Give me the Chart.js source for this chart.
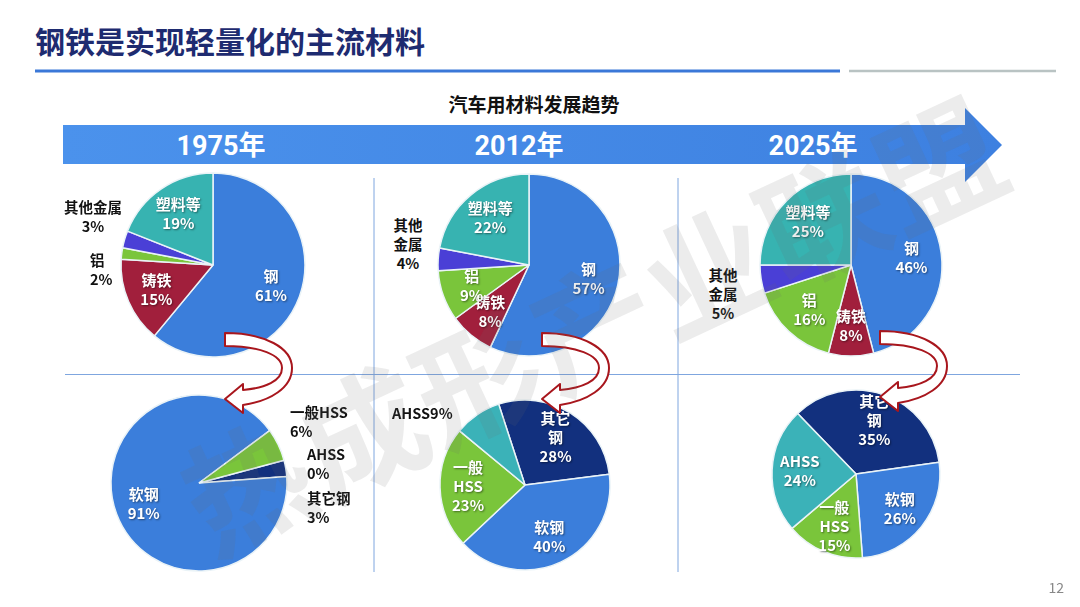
<!DOCTYPE html>
<html>
<head>
<meta charset="utf-8">
<script src="https://cdn.jsdelivr.net/npm/chart.js@4.4.1/dist/chart.umd.min.js"></script>
<style>
  html, body { margin: 0; padding: 0; background: #fff; }
  #slide { position: relative; width: 1080px; height: 607px; overflow: hidden; background: #fff;
           font-family: "Noto Sans CJK SC", "Noto Sans", sans-serif; }
  .abs { position: absolute; }
  .title { left: 35px; top: 18px; font-size: 30px; font-weight: 700; color: #1e2b70; }
  .subtitle { left: 0; width: 1068px; top: 90px; text-align: center; font-size: 19px; font-weight: 700; color: #111; }
  .year { top: 128px; width: 160px; text-align: center; font-size: 27px; font-weight: 700; color: #fff; line-height: 36px;
          font-family: Roboto, "Noto Sans CJK SC", sans-serif; }
  .note { font-size: 14.5px; font-weight: 700; color: #111; line-height: 19px; white-space: pre; }
  .pie { position: absolute; width: 200px; height: 200px; }
  .mark { left: 150px; top: 425px; font-size: 125px; font-weight: 700; color: rgba(110,110,110,0.13);
          transform: rotate(-25deg); transform-origin: left top; white-space: nowrap; letter-spacing: 2px; pointer-events: none; }
  .page { right: 16px; bottom: 10px; font-size: 14px; color: #888; }
</style>
</head>
<body>
<div id="slide">
  <svg class="abs" width="1080" height="607" style="left:0;top:0">
    <defs>
      <linearGradient id="band" x1="0" x2="1" y1="0" y2="0">
        <stop offset="0" stop-color="#4b92ec"/>
        <stop offset="1" stop-color="#3d80e0"/>
      </linearGradient>
    </defs>
    <line x1="35" y1="71" x2="840" y2="71" stroke="#3b78d8" stroke-width="3"/>
    <line x1="849" y1="71" x2="1056" y2="71" stroke="#b9c3c3" stroke-width="2.5"/>
    <polygon points="63,125 965,125 965,108 1002,145 965,182 965,164 63,164" fill="url(#band)"/>
    <line x1="374" y1="178" x2="374" y2="572" stroke="#7fa6df" stroke-width="1"/>
    <line x1="678" y1="178" x2="678" y2="572" stroke="#7fa6df" stroke-width="1"/>
    <line x1="65" y1="374.5" x2="1020" y2="374.5" stroke="#7fa6df" stroke-width="1"/>
  </svg>

  <div class="abs title">钢铁是实现轻量化的主流材料</div>
  <div class="abs subtitle">汽车用材料发展趋势</div>
  <div class="abs year" style="left:141px">1975年</div>
  <div class="abs year" style="left:439px">2012年</div>
  <div class="abs year" style="left:733px">2025年</div>

  <canvas id="top1975" class="pie" width="200" height="200" style="left:113px;top:165px"></canvas>
  <canvas id="top2012" class="pie" width="200" height="200" style="left:429px;top:165px"></canvas>
  <canvas id="top2025" class="pie" width="200" height="200" style="left:751px;top:165px"></canvas>
  <canvas id="bot1975" class="pie" width="200" height="200" style="left:99px;top:383px"></canvas>
  <canvas id="bot2012" class="pie" width="200" height="200" style="left:425px;top:385px"></canvas>
  <canvas id="bot2025" class="pie" width="200" height="200" style="left:756px;top:374px"></canvas>

  <div id="notes"></div>

  <svg class="abs" width="1080" height="607" style="left:0;top:0;pointer-events:none">
    <defs>
      <path id="bend" d="M0,0 C40,0 67,15 67,35 C67,55 45,68 18,72 L18,80 L0,66 L18,51 L18,57 C40,55 57,48 57,35 C57,22 35,13 0,13 Z"
            fill="#fff" stroke="#a8161d" stroke-width="2" stroke-linejoin="round"/>
    </defs>
    <use href="#bend" x="225" y="333"/>
    <use href="#bend" x="542" y="333"/>
    <use href="#bend" x="880" y="331"/>
  </svg>

  <div class="abs mark">热成形产业联盟</div>
  <div class="abs page">12</div>
</div>

<script>
// upper row: material mix per year (%)
const topCategories = ['钢', '铸铁', '铝', '其他金属', '塑料等'];
const top1975 = [61, 15, 2, 3, 19];
const top2012 = [57, 8, 9, 4, 22];
const top2025 = [46, 8, 16, 5, 25];

// lower row: steel grades per year (%)
const botCategories = ['其它钢', '软钢', '一般HSS', 'AHSS'];
const bot1975 = [3, 91, 6, 0];
const bot2012 = [28, 40, 23, 9];
const bot2025 = [35, 26, 15, 24];

const topColors = ['#3b7edb', '#a11f3c', '#7ac53b', '#4a3fd6', '#37b3b1'];
const botColors = ['#12307e', '#3b7edb', '#7ac53b', '#3bb2b8'];

// how a category name wraps when written inside its slice
const wrapNames = { '其它钢': ['其它', '钢'], '一般HSS': ['一般', 'HSS'] };

// inside-label plugin: name + percent at 2/3 radius of each slice
const sliceLabels = {
  id: 'sliceLabels',
  afterDatasetsDraw(chart, args, opts) {
    const ctx = chart.ctx;
    const ds = chart.data.datasets[0];
    const meta = chart.getDatasetMeta(0);
    ctx.save();
    ctx.font = 'bold 15px "Noto Sans CJK SC", sans-serif';
    ctx.textAlign = 'center';
    ctx.textBaseline = 'middle';
    ctx.fillStyle = '#fff';
    ctx.shadowColor = 'rgba(0,0,0,0.45)';
    ctx.shadowBlur = 2;
    ctx.shadowOffsetX = 1;
    ctx.shadowOffsetY = 1;
    meta.data.forEach((arc, i) => {
      if (opts.outside.includes(i)) return;
      const p = arc.getProps(['startAngle', 'endAngle', 'outerRadius', 'x', 'y']);
      const mid = (p.startAngle + p.endAngle) / 2;
      const rr = p.outerRadius * 0.67;
      const x = p.x + Math.cos(mid) * rr;
      const y = p.y + Math.sin(mid) * rr;
      const name = chart.data.labels[i];
      const lines = (opts.wrap && wrapNames[name]) ? wrapNames[name].slice() : [name];
      lines.push(ds.data[i] + '%');
      const lh = 19;
      lines.forEach((t, k) => {
        ctx.fillText(t, x, y + (k - (lines.length - 1) / 2) * lh);
      });
    });
    ctx.restore();
  }
};

function drawPie(id, labels, values, colors, radius, rotation, outside, wrap) {
  new Chart(document.getElementById(id), {
    type: 'pie',
    data: {
      labels: labels,
      datasets: [{
        data: values,
        backgroundColor: colors,
        borderColor: '#eaf3f7',
        borderWidth: 1.5,
        radius: radius
      }]
    },
    options: {
      responsive: false,
      animation: false,
      rotation: rotation,
      layout: { padding: 0 },
      plugins: {
        legend: { display: false },
        tooltip: { enabled: false },
        sliceLabels: { outside: outside, wrap: wrap }
      }
    },
    plugins: [sliceLabels]
  });
}

drawPie('top1975', topCategories, top1975, topColors, 92, 0, [2, 3], false);
drawPie('top2012', topCategories, top2012, topColors, 91, 0, [3], false);
drawPie('top2025', topCategories, top2025, topColors, 91, 0, [3], false);
drawPie('bot1975', botCategories, bot1975, botColors, 88, 75, [0, 2, 3], false);
drawPie('bot2012', botCategories, bot2012, botColors, 85, -18, [3], true);
drawPie('bot2025', botCategories, bot2025, botColors, 84, -44, [], true);

// labels for slices too small to carry their own text
const notes = [
  { text: topCategories[3] + '\n' + top1975[3] + '%', left: 50, top: 197, align: 'center', width: 86 },
  { text: topCategories[2] + '\n' + top1975[2] + '%', left: 90, top: 250, align: 'left' },
  { text: '其他\n金属\n' + top2012[3] + '%', left: 388, top: 215, align: 'center', width: 40 },
  { text: '其他\n金属\n' + top2025[3] + '%', left: 703, top: 265, align: 'center', width: 40 },
  { text: botCategories[2] + '\n' + bot1975[2] + '%', left: 290, top: 402, align: 'left' },
  { text: botCategories[3] + '\n' + bot1975[3] + '%', left: 307, top: 444, align: 'left' },
  { text: botCategories[0] + '\n' + bot1975[0] + '%', left: 307, top: 488, align: 'left' },
  { text: botCategories[3] + bot2012[3] + '%', left: 392, top: 403, align: 'left' }
];
const holder = document.getElementById('notes');
notes.forEach(n => {
  const d = document.createElement('div');
  d.className = 'abs note';
  d.textContent = n.text;
  d.style.left = n.left + 'px';
  d.style.top = n.top + 'px';
  d.style.textAlign = n.align;
  if (n.width) d.style.width = n.width + 'px';
  holder.appendChild(d);
});
</script>
</body>
</html>
